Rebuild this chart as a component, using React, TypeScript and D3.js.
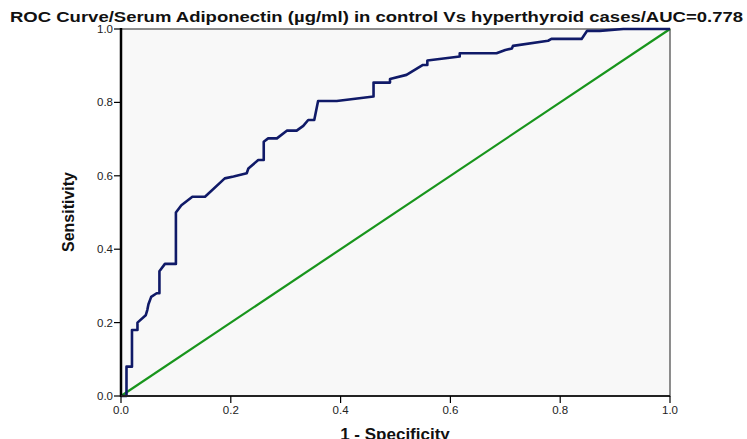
import React from "react";
import * as d3 from "d3";

const fpr = [0, 0.01, 0.01, 0.02, 0.02, 0.03, 0.03, 0.045, 0.048, 0.05, 0.055, 0.065, 0.07, 0.07, 0.08, 0.1, 0.1, 0.11, 0.13, 0.153, 0.189, 0.205, 0.229, 0.232, 0.25, 0.26, 0.26, 0.268, 0.284, 0.302, 0.32, 0.332, 0.341, 0.352, 0.359, 0.393, 0.46, 0.46, 0.49, 0.49, 0.52, 0.55, 0.558, 0.558, 0.617, 0.617, 0.684, 0.70, 0.712, 0.714, 0.778, 0.784, 0.839, 0.849, 0.872, 0.915, 1.0];
const tpr = [0, 0, 0.08, 0.08, 0.18, 0.18, 0.2, 0.22, 0.235, 0.25, 0.27, 0.28, 0.28, 0.34, 0.36, 0.36, 0.5, 0.52, 0.543, 0.543, 0.593, 0.598, 0.607, 0.62, 0.643, 0.643, 0.693, 0.702, 0.702, 0.723, 0.723, 0.736, 0.752, 0.752, 0.804, 0.804, 0.816, 0.854, 0.854, 0.864, 0.875, 0.902, 0.902, 0.914, 0.925, 0.934, 0.934, 0.943, 0.947, 0.954, 0.968, 0.973, 0.973, 0.995, 0.995, 1.0, 1.0];
const refX = [0, 1];
const refY = [0, 1];
const ticks = [0, 0.2, 0.4, 0.6, 0.8, 1.0];
const title = "ROC Curve/Serum Adiponectin (µg/ml) in control Vs hyperthyroid cases/AUC=0.778";

export default function App() {
  const W = 747, H = 439;
  const x0 = 121, x1 = 670, y0 = 396, y1 = 29;
  const x = d3.scaleLinear().domain([0, 1]).range([x0, x1]);
  const y = d3.scaleLinear().domain([0, 1]).range([y0, y1]);
  const curve = d3.line<number>().x((d) => x(fpr[d])).y((d) => y(tpr[d]));
  const ref = d3.line<number>().x((d) => x(refX[d])).y((d) => y(refY[d]));
  const font = "Arial, 'Liberation Sans', sans-serif";
  return (
    <svg width={W} height={H} style={{ position: "absolute", left: 0, top: 0, background: "#fff" }} fontFamily={font}>
      <rect x={x0} y={y1} width={x1 - x0} height={y0 - y1} fill="#f8f8f8" stroke="#444" strokeWidth={1.2} />
      <path d={ref(refX.map((_, i) => i)) || ""} fill="none" stroke="#18951c" strokeWidth={2.2} />
      <path d={curve(fpr.map((_, i) => i)) || ""} fill="none" stroke="#101a68" strokeWidth={2.6} strokeLinejoin="round" />
      <line x1={x0} x2={x0} y1={y1 - 1} y2={y0 + 1} stroke="#000" strokeWidth={2.5} />
      <line x1={x0} x2={x1} y1={y0} y2={y0} stroke="#222" strokeWidth={2} />
      {ticks.map((t) => (
        <g key={"y" + t}>
          <line x1={x0 - 7} x2={x0} y1={y(t)} y2={y(t)} stroke="#000" strokeWidth={1.2} />
          <text x={x0 - 8} y={y(t)} dy="0.35em" textAnchor="end" fontSize={11.5} fill="#222">{t.toFixed(1)}</text>
        </g>
      ))}
      {ticks.map((t) => (
        <g key={"x" + t}>
          <line x1={x(t)} x2={x(t)} y1={y0} y2={y0 + 7} stroke="#000" strokeWidth={1.2} />
          <text x={x(t)} y={y0 + 18} textAnchor="middle" fontSize={11.5} fill="#222">{t.toFixed(1)}</text>
        </g>
      ))}
      <text x={10} y={22} fontSize={14.5} fontWeight="bold" fill="#111" textLength={733} lengthAdjust="spacingAndGlyphs">{title}</text>
      <text transform={`translate(74,212) rotate(-90)`} textAnchor="middle" fontSize={16} fontWeight="bold" fill="#111">Sensitivity</text>
      <text x={395} y={440} textAnchor="middle" fontSize={17} fontWeight="bold" fill="#111">1 - Specificity</text>
    </svg>
  );
}
